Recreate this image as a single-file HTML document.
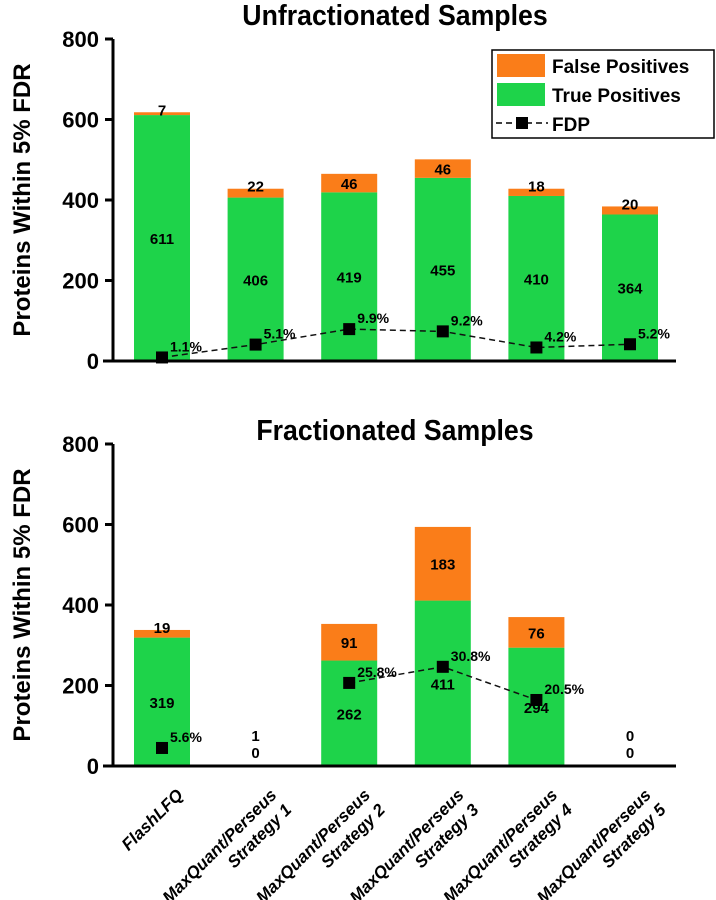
<!DOCTYPE html>
<html><head><meta charset="utf-8"><style>body{margin:0;background:#fff}svg{display:block;font-family:"Liberation Sans",Arial,sans-serif;font-weight:bold}</style></head>
<body>
<svg id="chart" width="716" height="900" viewBox="0 0 716 900" xmlns="http://www.w3.org/2000/svg"></svg>
<script>
const categories = ["FlashLFQ","MaxQuant/Perseus|Strategy 1","MaxQuant/Perseus|Strategy 2","MaxQuant/Perseus|Strategy 3","MaxQuant/Perseus|Strategy 4","MaxQuant/Perseus|Strategy 5"];
const unfracTP = [611,406,419,455,410,364];
const unfracFP = [7,22,46,46,18,20];
const unfracFDP = [1.1,5.1,9.9,9.2,4.2,5.2];
const fracTP = [319,0,262,411,294,0];
const fracFP = [19,1,91,183,76,0];
const fracFDP = [5.6,null,25.8,30.8,20.5,null];
const yTicks = [0,200,400,600,800];

const NS="http://www.w3.org/2000/svg";
const svg=document.getElementById('chart');
function mk(tag,attrs,parent){const e=document.createElementNS(NS,tag);for(const k in attrs)e.setAttribute(k,attrs[k]);(parent||svg).appendChild(e);return e;}
const xL=113,xR=676,step=93.6,x0=162;
function xPos(i){return x0+i*step;}
const barW=56;

function panel(name,title,titleY,yZero,yTop,TP,FP,FDP){
  const g=mk('g',{});
  
  
  const y=v=>yZero-(v/800)*(yZero-yTop);
  const t=mk('text',{x:395,y:titleY,'text-anchor':'middle','font-size':29,transform:`translate(395,0) scale(0.92,1) translate(-395,0)`},g);t.textContent=title;
  
  
  for(let i=0;i<TP.length;i++){
    const cx=xPos(i);
    const tp=mk('rect',{x:cx-barW/2,y:y(TP[i]),width:barW,height:yZero-y(TP[i]),fill:'#1ed34a'},g);
    
    
    const fp=mk('rect',{x:cx-barW/2,y:y(TP[i]+FP[i]),width:barW,height:y(TP[i])-y(TP[i]+FP[i]),fill:'#fa7d19'},g);
    
    
    let tpY,fpY;
    if(TP[i]+FP[i]<20){tpY=yZero-8;fpY=yZero-25;}
    else{tpY=y(TP[i]/2)+6;fpY=FP[i]>=30?y(TP[i]+FP[i]/2)+6:y(TP[i]+FP[i])+3;}
    const l1=mk('text',{x:cx,y:tpY,'text-anchor':'middle','font-size':15},g);l1.textContent=TP[i];
    
    
    const l2=mk('text',{x:cx,y:fpY,'text-anchor':'middle','font-size':15},g);l2.textContent=FP[i];
    
    
  }
  let pts=[];
  for(let i=0;i<FDP.length;i++){
    if(FDP[i]==null){if(pts.length>1)drawLine(pts);pts=[];continue;}
    pts.push([xPos(i),y(FDP[i]*8)]);
  }
  if(pts.length>1)drawLine(pts);
  function drawLine(p){const pl=mk('polyline',{points:p.map(q=>q.join(',')).join(' '),fill:'none',stroke:'#111','stroke-width':1.5,'stroke-dasharray':'6,4'},g);
    
    }
  for(let i=0;i<FDP.length;i++){
    if(FDP[i]==null)continue;
    const cx=xPos(i),cy=y(FDP[i]*8);
    const m=mk('rect',{x:cx-6,y:cy-6,width:12,height:12,fill:'#000'},g);
    
    
    const lb=mk('text',{x:cx+8,y:cy-6,'font-size':14},g);lb.textContent=FDP[i].toFixed(1)+'%';
    
    
  }
  const ya=mk('line',{x1:xL,y1:yTop,x2:xL,y2:yZero+1.5,stroke:'#000','stroke-width':3},g);
  
  
  const xa=mk('line',{x1:103,y1:yZero,x2:xR,y2:yZero,stroke:'#000','stroke-width':3},g);
  
  
  yTicks.forEach(v=>{
    mk('line',{x1:xL-8,y1:y(v),x2:xL,y2:y(v),stroke:'#000','stroke-width':3},g);
    const tl=mk('text',{x:xL-14,y:y(v)+8,'text-anchor':'end','font-size':22},g);tl.textContent=v;
    
    
  });
  const yt=mk('text',{x:0,y:0,'text-anchor':'middle','font-size':24,transform:`translate(30,${(yZero+yTop)/2}) rotate(-90)`},g);
  yt.textContent='Proteins Within 5% FDR';
  
  
}
panel('unfractionated-panel','Unfractionated Samples',25,361,39,unfracTP,unfracFP,unfracFDP);
panel('fractionated-panel','Fractionated Samples',440,766,444,fracTP,fracFP,fracFDP);

categories.forEach((c,i)=>{
  const parts=c.split('|');
  const t=mk('text',{x:0,y:0,'text-anchor':'end','font-size':17,'font-style':'italic',transform:`translate(${xPos(i)+22},${796}) rotate(-45)`});
  
  
  parts.forEach((p,k)=>{const s=mk('tspan',{x:0,dy:k?21:0},t);s.textContent=p;});
});

const lg=mk('g',{});


mk('rect',{x:492,y:50,width:222,height:88,fill:'#fff',stroke:'#000','stroke-width':1.5},lg);
const e1=mk('rect',{x:497,y:54,width:48,height:23,fill:'#fa7d19'},lg);


const e2=mk('rect',{x:497,y:83,width:48,height:23,fill:'#1ed34a'},lg);


mk('line',{x1:496,y1:123,x2:548,y2:123,stroke:'#000','stroke-width':1.5,'stroke-dasharray':'6,4'},lg);
mk('rect',{x:516,y:117,width:12,height:12,fill:'#000'},lg);
[['False Positives',73],['True Positives',102],['FDP',131]].forEach(([s,yy])=>{
  const t=mk('text',{x:552,y:yy,'font-size':19},lg);t.textContent=s;
  
  
});
</script>
</body></html>
